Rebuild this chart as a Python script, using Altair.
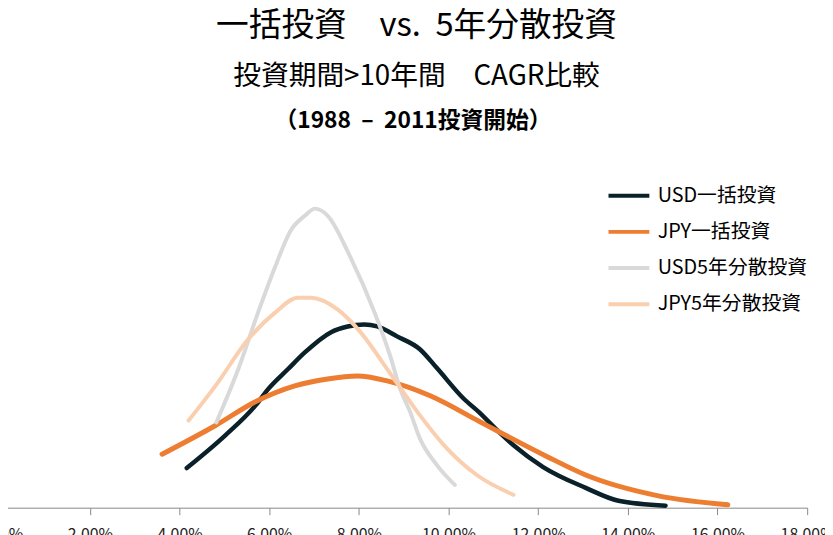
import altair as alt
import pandas as pd

FONT = "Noto Sans CJK JP"

series = ["USD一括投資", "JPY一括投資", "USD5年分散投資", "JPY5年分散投資"]
colors = ["#0b2129", "#ed7d31", "#d9d9d9", "#f9cfaf"]
widths = [4.5, 5, 4, 4]

# CAGR (%) and relative frequency (arbitrary units)
usd_lump_x = [4.16, 5.02, 5.69, 5.98, 6.42, 6.80, 7.37, 7.75, 8.12, 8.41, 8.85, 9.36, 9.74,
              10.34, 10.69, 11.11, 11.45, 12.11, 13.06, 13.79, 14.84]
usd_lump_y = [40, 73, 103, 120, 140, 157, 177, 183, 185, 183, 173, 160, 141,
              110, 96, 77, 63, 41, 20, 7, 2]

jpy_lump_x = [3.61, 4.80, 5.69, 6.57, 7.30, 7.97, 8.63, 9.59, 10.69, 11.11, 12.18, 13.06, 14.68, 16.23]
jpy_lump_y = [54, 83, 107, 123, 130, 133, 128, 113, 87, 77, 52, 33, 12, 3]

usd_dca_x = [4.82, 5.31, 5.75, 6.13, 6.48, 6.80, 7.02, 7.30, 7.81, 8.35, 8.70, 8.92, 9.14, 9.36, 9.74, 10.14]
usd_dca_y = [86, 140, 197, 243, 280, 295, 302, 295, 253, 197, 153, 120, 97, 70, 43, 23]

jpy_dca_x = [4.20, 4.80, 5.53, 6.13, 6.64, 6.93, 7.53, 8.04, 8.63, 9.30, 9.90, 10.63, 11.45]
jpy_dca_y = [88, 123, 170, 197, 212, 212, 200, 177, 140, 97, 63, 33, 13]

x_ticks = [0, 0.02, 0.04, 0.06, 0.08, 0.10, 0.12, 0.14, 0.16, 0.18]

title_1 = "一括投資\u3000vs.\u00a0 5年分散投資"
title_2 = "投資期間>10年間\u3000CAGR比較"
title_3 = "（1988\u00a0 –\u00a0 2011投資開始）"

rows = []
for name, xs, ys in [(series[0], usd_lump_x, usd_lump_y),
                     (series[1], jpy_lump_x, jpy_lump_y),
                     (series[2], usd_dca_x, usd_dca_y),
                     (series[3], jpy_dca_x, jpy_dca_y)]:
    for i, (a, b) in enumerate(zip(xs, ys)):
        rows.append({"series": name, "cagr": a / 100, "freq": b, "i": i})
df = pd.DataFrame(rows)

xenc = alt.X("cagr:Q",
             scale=alt.Scale(domain=[0, 0.18], range=[-7.8, 807], nice=False, zero=False),
             axis=alt.Axis(values=x_ticks, format=".2%", title=None, grid=False,
                           domainColor="#888888", tickColor="#888888", tickSize=7,
                           labelFontSize=16, labelFont=FONT, labelColor="#222222",
                           labelPadding=12, labelFlush=False, labelOverlap=False))
yenc = alt.Y("freq:Q", scale=alt.Scale(domain=[0, 330], nice=False), axis=None)
cenc = alt.Color("series:N", scale=alt.Scale(domain=series, range=colors),
                 legend=alt.Legend(title=None, orient="none", legendX=604, legendY=-8,
                                   symbolType="stroke", symbolStrokeWidth=4, symbolSize=1700,
                                   labelFont=FONT, labelFontSize=20, labelColor="#000000",
                                   labelOffset=6, rowPadding=3.5, padding=0))

layers = []
for name, w in zip(series, widths):
    layers.append(
        alt.Chart(df).transform_filter(alt.datum.series == name)
        .mark_line(strokeWidth=w, interpolate="monotone", strokeCap="round", strokeJoin="round")
        .encode(x=xenc, y=yenc, color=cenc, order="i:Q")
    )

sub3 = alt.Chart(pd.DataFrame({"t": [title_3]})).mark_text(
    font=FONT, fontSize=23, fontWeight="bold", color="#000000", align="center", baseline="alphabetic"
).encode(text="t:N", x=alt.value(409), y=alt.value(-53))

chart = alt.layer(*layers, sub3).properties(
    width=807, height=330,
    background="white",
    autosize=alt.AutoSizeParams(type="none"),
    padding={"left": 0, "top": 172, "right": 18, "bottom": 25},
    title=alt.TitleParams(text=title_1, subtitle=title_2, font=FONT, subtitleFont=FONT,
                          fontSize=33, subtitleFontSize=28, fontWeight="normal",
                          color="#000000", subtitleColor="#000000", anchor="middle",
                          offset=20, subtitlePadding=20, dx=9),
).configure_view(stroke=None)

chart.save("out.html", embed_options={"renderer": "svg", "actions": False})
